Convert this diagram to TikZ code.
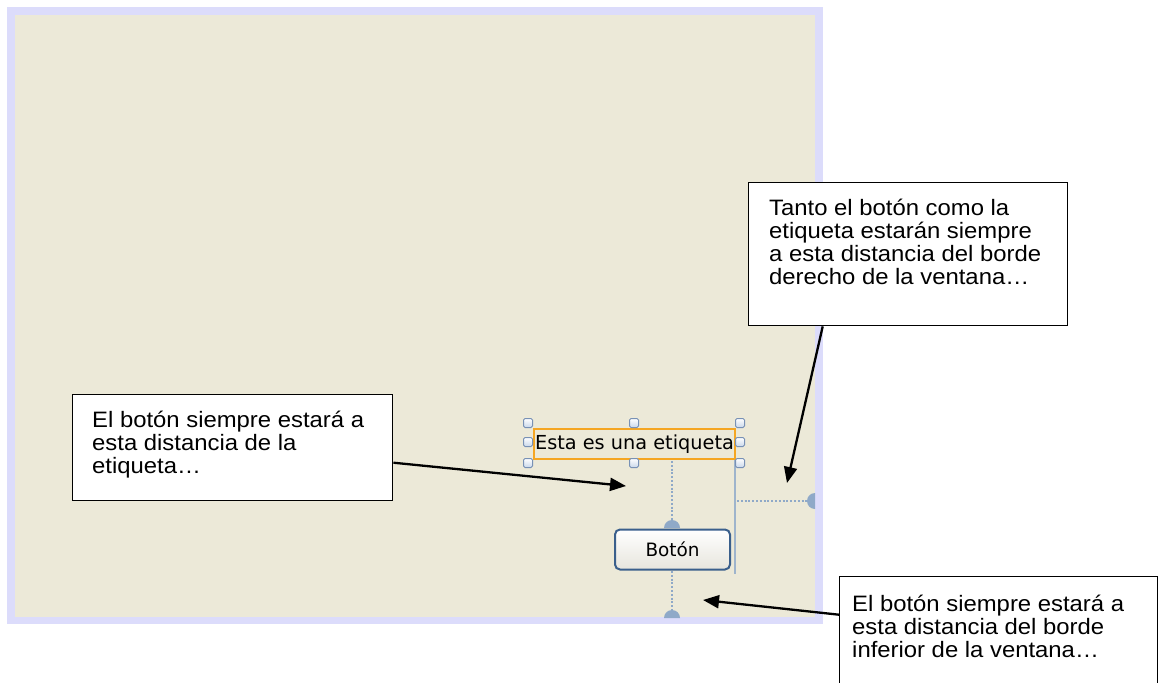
\documentclass[tikz,border=0pt]{standalone}
\usepackage{fontspec}
\setmainfont{Liberation Sans}
\newfontfamily\callfont{Liberation Sans}[FakeStretch=1.07]
\newfontfamily\uifont{DejaVu Sans}
\usetikzlibrary{arrows.meta,calc}
\definecolor{lav}{HTML}{DCDCFB}
\definecolor{xpbeige}{HTML}{ECE9D8}
\definecolor{guide}{HTML}{8FA9C8}
\definecolor{guidesolid}{HTML}{9EB4CC}
\definecolor{btnborder}{HTML}{3A5F8C}
\definecolor{selorange}{HTML}{F5A623}
\definecolor{handleedge}{HTML}{7891B5}
\definecolor{handlefill}{HTML}{C9D7EA}
\newcommand{\calllines}[1]{\vtop{\baselineskip=23.3pt\lineskiplimit=-10pt\halign{##\hfil\cr#1\crcr}}}
\tikzset{
  callbox/.style={draw=black, line width=1.4pt, fill=white, inner sep=0pt, anchor=north west},
  calltext/.style={inner sep=0pt, anchor=base west, font=\callfont\fontsize{22.3}{23.3}\selectfont},
  arr/.style={line width=2.3pt, -{Triangle[length=16pt,width=13pt]}},
  handle/.style={draw=handleedge, line width=1pt, rounded corners=1.5pt, top color=white, bottom color=handlefill, minimum size=9pt, inner sep=0pt},
  guidedot/.style={draw=guide, line width=1.9pt, dash pattern=on 1.9pt off 1.9pt},
  knob/.style={fill=guide, draw=none}
}
\begin{document}
\begin{tikzpicture}[x=1pt,y=-1pt]
\clip (0,0) rectangle (1158,682);
\fill[white] (0,0) rectangle (1158,682);
% window
\fill[lav] (7,7) rectangle (823,624);
\fill[xpbeige] (15,15) rectangle (815,617);
% guides
\draw[guidesolid, line width=2pt] (735,459) -- (735,574);
\draw[guidedot] (672,461) -- (672,521);
\draw[guidedot] (672,571) -- (672,610);
\draw[guidedot] (737,501) -- (809,501);
\fill[knob] (664,528) arc[start angle=180, end angle=0, radius=8pt] -- cycle;
\fill[knob] (664,618) arc[start angle=180, end angle=0, radius=8pt] -- cycle;
\fill[knob] (815,493) arc[start angle=90, end angle=270, radius=8pt] -- cycle;
% label with selection
\node[draw=selorange, line width=1.5pt, minimum width=201pt, minimum height=30pt, inner sep=0pt, font=\uifont\fontsize{19.3}{22}\selectfont] (lbl) at (634.5,444) {Esta es una etiqueta};
\foreach \hx/\hy/\hn in {528/423/a,634/423/b,740/423/c,528/442/d,740/442/e,528/463/f,634/463/g,740/463/h}
  \node[handle] (h\hn) at (\hx,\hy) {};
% button
\node[draw=btnborder, line width=2pt, rounded corners=5pt, minimum width=115pt, minimum height=40pt, inner sep=0pt, top color=white, bottom color=xpbeige!80!gray!60, font=\uifont\fontsize{18.4}{22}\selectfont] (btn) at (672.5,549.5) {Botón};
% callouts
\node[callbox, minimum width=319pt, minimum height=143pt] (tr) at (748,182) {};
\node[calltext] (trt) at (769,215) {\calllines{Tanto el botón como la\cr etiqueta estarán siempre\cr a esta distancia del borde\cr derecho de la ventana…}};
\node[callbox, minimum width=320pt, minimum height=106pt] (lb) at (72,394) {};
\node[calltext] (lbt) at (92,427) {\calllines{El botón siempre estará a\cr esta distancia de la\cr etiqueta…}};
\node[callbox, minimum width=318pt, minimum height=140pt] (br) at (839,576) {};
\node[calltext] (brt) at (852,611) {\calllines{El botón siempre estará a\cr esta distancia del borde\cr inferior de la ventana…}};
% arrow tips
\coordinate (tipl) at (626,486);
\coordinate (tipr) at (787,483);
\coordinate (tipb) at (703,600);
\draw[arr] ($(lb.east)+(0,15)$) -- (tipl);
\draw[arr] ($(tr.south)+(-85.5,0)$) -- (tipr);
\draw[arr] ($(br.west)+(0,-32)$) -- (tipb);
\end{tikzpicture}
\end{document}
